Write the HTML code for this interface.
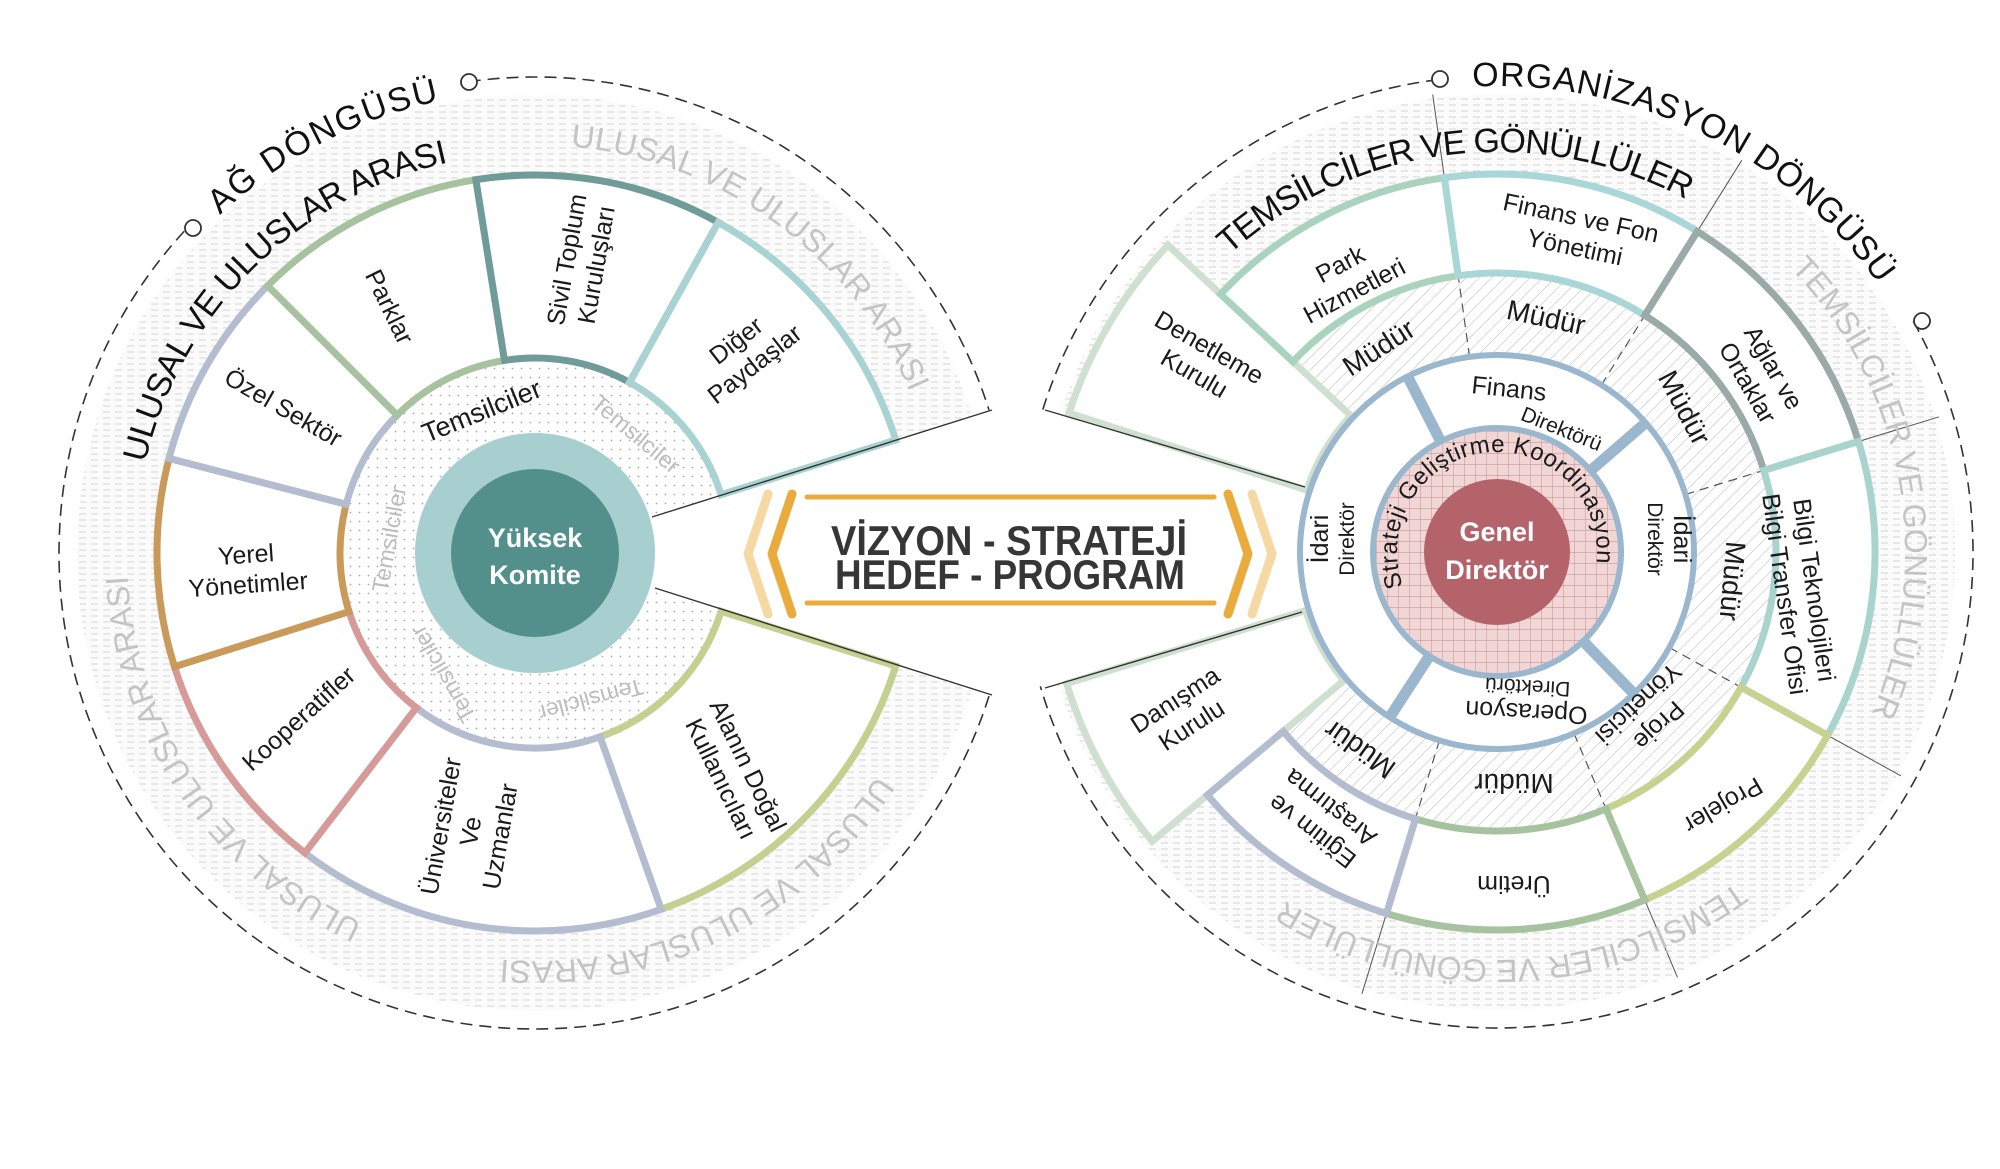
<!DOCTYPE html>
<html><head><meta charset="utf-8">
<style>
html,body{margin:0;padding:0;background:#fff;}
svg{display:block;font-family:"Liberation Sans","DejaVu Sans",sans-serif;}
.lb{font-size:25px;fill:#1a1a1a;text-anchor:middle;}
.rg{font-size:34px;fill:#111;}
.gr{font-size:32px;fill:#c4c4c4;}
.sg{stroke-width:7;fill:#fff;stroke-linejoin:miter;}
</style></head>
<body>
<svg id="s" width="2000" height="1169" viewBox="0 0 2000 1169" xmlns="http://www.w3.org/2000/svg">
<defs>
<pattern id="hg" width="12" height="6" patternUnits="userSpaceOnUse"><rect width="12" height="6" fill="#fbfbfb"/><line x1="0" y1="3" x2="7" y2="3" stroke="#d4d4d4" stroke-width="1"/></pattern>
<pattern id="dg" width="9" height="9" patternUnits="userSpaceOnUse" patternTransform="rotate(-45)"><rect width="9" height="9" fill="#fff"/><line x1="0" y1="0" x2="9" y2="0" stroke="#c2c2c2" stroke-width="1.2"/></pattern>
<pattern id="gd" width="11" height="11" patternUnits="userSpaceOnUse"><rect width="11" height="11" fill="#f2d6d6"/><path d="M0 0H11M0 0V11" stroke="#b88a8a" stroke-width="0.9" fill="none"/></pattern>
<pattern id="dt" width="9" height="9" patternUnits="userSpaceOnUse"><rect width="9" height="9" fill="#fff"/><circle cx="4.5" cy="4.5" r="0.9" fill="#a8a8a8"/></pattern>
<path id="la1"/><path id="la2"/><path id="lg1"/><path id="lg2"/><path id="lg3"/>
<path id="ra1"/><path id="ra2"/><path id="rg1"/><path id="rg2"/><path id="rs"/>
</defs>

<!-- LEFT -->
<g transform="translate(535,553)">
<path id="Lband" fill="url(#hg)"/>
<path id="Ld1" fill="none" stroke="#333" stroke-width="1.6" stroke-dasharray="12 7"/>
<path id="Ld2" fill="none" stroke="#333" stroke-width="1.6" stroke-dasharray="12 7"/>
<path id="Lring" fill="url(#dt)"/>
<path id="L1" class="sg" stroke="#c4d08f"/>
<path id="L2" class="sg" stroke="#b4bdd0"/>
<path id="L3" class="sg" stroke="#d69b98"/>
<path id="L4" class="sg" stroke="#c99a5a"/>
<path id="L5" class="sg" stroke="#b4bdd0"/>
<path id="L6" class="sg" stroke="#a7c29f"/>
<path id="L7" class="sg" stroke="#6f9b98"/>
<path id="L8" class="sg" stroke="#a9d2d2"/>
<circle r="120" fill="#a7cfcf"/>
<circle r="84" fill="#53908b"/>
<text class="rg"><textPath href="#la1" textLength="250" lengthAdjust="spacing">AĞ DÖNGÜSÜ</textPath></text>
<text class="rg"><textPath href="#la2" textLength="450" lengthAdjust="spacing">ULUSAL VE ULUSLAR ARASI</textPath></text>
<text class="gr"><textPath href="#lg1" textLength="440" lengthAdjust="spacing">ULUSAL VE ULUSLAR ARASI</textPath></text>
<text class="gr"><textPath href="#lg2" textLength="440" lengthAdjust="spacing">ULUSAL VE ULUSLAR ARASI</textPath></text>
<text class="gr"><textPath href="#lg3" textLength="440" lengthAdjust="spacing">ULUSAL VE ULUSLAR ARASI</textPath></text>
</g>
<path d="M652 517L992 410M655 588L992 695" stroke="#333" stroke-width="1.4" fill="none"/>
<circle cx="193" cy="228" r="8" fill="#fff" stroke="#333" stroke-width="1.8"/>
<circle cx="469" cy="82" r="8" fill="#fff" stroke="#333" stroke-width="1.8"/>
<text x="535" y="547" text-anchor="middle" font-size="27" font-weight="bold" fill="#fff">Yüksek</text>
<text x="535" y="584" text-anchor="middle" font-size="27" font-weight="bold" fill="#fff">Komite</text>

<g class="lb">
<text transform="translate(389,307) rotate(64)" y="8">Parklar</text>
<text transform="translate(581,262) rotate(-80)"><tspan x="0" y="-6">Sivil Toplum</tspan><tspan x="0" y="24">Kuruluşları</tspan></text>
<text transform="translate(745,352) rotate(-38)"><tspan x="0" y="-6">Diğer</tspan><tspan x="0" y="24">Paydaşlar</tspan></text>
<text transform="translate(283,408) rotate(30)" y="8">Özel Sektör</text>
<text transform="translate(247,569) rotate(-4)"><tspan x="0" y="-6">Yerel</tspan><tspan x="0" y="24">Yönetimler</tspan></text>
<text transform="translate(299,719) rotate(-42)" y="8">Kooperatifler</text>
<text transform="translate(469,831) rotate(-80)"><tspan x="0" y="-20">Üniversiteler</tspan><tspan x="0" y="10">Ve</tspan><tspan x="0" y="40">Uzmanlar</tspan></text>
<text transform="translate(735,772) rotate(64)"><tspan x="0" y="-6">Alanın Doğal</tspan><tspan x="0" y="24">Kullanıcıları</tspan></text>
<text transform="translate(482,412) rotate(-22)" y="8" font-size="27">Temsilciler</text>
</g>
<g class="lb" style="fill:#bdbdbd;font-size:23px">
<text transform="translate(636,434) rotate(40)" y="8">Temsilciler</text>
<text transform="translate(389,539) rotate(-80)" y="8">Temsilciler</text>
<text transform="translate(443,674) rotate(240)" y="8">Temsilciler</text>
<text transform="translate(591,700) rotate(165)" y="8">Temsilciler</text>
</g>

<!-- RIGHT -->
<g transform="translate(1497,552)">
<path id="Rband" fill="url(#hg)"/>
<path id="Rd1" fill="none" stroke="#333" stroke-width="1.6" stroke-dasharray="12 7"/>
<path id="Rd2" fill="none" stroke="#333" stroke-width="1.6" stroke-dasharray="12 7"/>
<path id="Rthin" fill="none" stroke="#555" stroke-width="1"/>
<path id="Rm" fill="url(#dg)"/>
<path id="Rmd" fill="none" stroke="#555" stroke-width="1.2" stroke-dasharray="9 6"/>
<path id="R1" class="sg" stroke="#cfe0d1"/>
<path id="R10" class="sg" stroke="#cfe0d1"/>
<path id="R2" class="sg" stroke="#a9d3bd"/>
<path id="R3" class="sg" stroke="#a9d6d6"/>
<path id="R4" class="sg" stroke="#99aaa7"/>
<path id="R5" class="sg" stroke="#a9d3cd"/>
<path id="R6" class="sg" stroke="#c5d290"/>
<path id="R7" class="sg" stroke="#a7c29f"/>
<path id="R8" class="sg" stroke="#b4bdd0"/>
<circle r="197" fill="#fff" stroke="#9bb7ce" stroke-width="6"/>
<path id="Rdiv" stroke="#9bb7ce" stroke-width="11" fill="none"/>
<circle r="124" fill="url(#gd)" stroke="#9bb7ce" stroke-width="6"/>
<circle r="73" fill="#b5636a"/>
<text class="rg"><textPath href="#ra1" textLength="471" lengthAdjust="spacing">ORGANİZASYON DÖNGÜSÜ</textPath></text>
<text class="rg"><textPath href="#ra2" textLength="490" lengthAdjust="spacing">TEMSİLCİLER VE GÖNÜLLÜLER</textPath></text>
<text class="gr"><textPath href="#rg1" textLength="480" lengthAdjust="spacing">TEMSİLCİLER VE GÖNÜLLÜLER</textPath></text>
<text class="gr"><textPath href="#rg2" textLength="480" lengthAdjust="spacing">TEMSİLCİLER VE GÖNÜLLÜLER</textPath></text>
<text style="font-size:24px;fill:#1a1a1a"><textPath href="#rs" textLength="360" lengthAdjust="spacing">Strateji Geliştirme Koordinasyon</textPath></text>
</g>
<path d="M1305 487L1045 410M1302 612L1045 688" stroke="#333" stroke-width="1.4" fill="none"/>
<circle cx="1440" cy="79" r="8" fill="#fff" stroke="#333" stroke-width="1.8"/>
<circle cx="1922" cy="321" r="8" fill="#fff" stroke="#333" stroke-width="1.8"/>
<text x="1497" y="541" text-anchor="middle" font-size="27" font-weight="bold" fill="#fff">Genel</text>
<text x="1497" y="579" text-anchor="middle" font-size="27" font-weight="bold" fill="#fff">Direktör</text>

<g class="lb">
<text transform="translate(1202,360) rotate(30)"><tspan x="0" y="-6">Denetleme</tspan><tspan x="0" y="24">Kurulu</tspan></text>
<text transform="translate(1347,277) rotate(-28)"><tspan x="0" y="-6">Park</tspan><tspan x="0" y="24">Hizmetleri</tspan></text>
<text transform="translate(1578,232) rotate(12)"><tspan x="0" y="-6">Finans ve Fon</tspan><tspan x="0" y="24">Yönetimi</tspan></text>
<text transform="translate(1761,375) rotate(60)"><tspan x="0" y="-6">Ağlar ve</tspan><tspan x="0" y="24">Ortaklar</tspan></text>
<text transform="translate(1800,592) rotate(82)"><tspan x="0" y="-6">Bilgi Teknolojileri</tspan><tspan x="0" y="24">Bilgi Transfer Ofisi</tspan></text>
<text transform="translate(1723,805) rotate(150)" y="8">Projeler</text>
<text transform="translate(1514,884) rotate(180)" y="8">Üretim</text>
<text transform="translate(1321,820) rotate(218)"><tspan x="0" y="-6">Eğitim ve</tspan><tspan x="0" y="24">Araştırma</tspan></text>
<text transform="translate(1183,712) rotate(-33)"><tspan x="0" y="-6">Danışma</tspan><tspan x="0" y="24">Kurulu</tspan></text>
<text transform="translate(1379,348) rotate(-33)" y="9" font-size="28">Müdür</text>
<text transform="translate(1546,318) rotate(12)" y="9" font-size="28">Müdür</text>
<text transform="translate(1684,408) rotate(62)" y="9" font-size="28">Müdür</text>
<text transform="translate(1732,581) rotate(95)" y="9" font-size="28">Müdür</text>
<text transform="translate(1360,749) rotate(215)" y="9" font-size="28">Müdür</text>
<text transform="translate(1514,783) rotate(180)" y="9" font-size="28">Müdür</text>
<text transform="translate(1649,715) rotate(137)"><tspan x="0" y="-6">Proje</tspan><tspan x="0" y="24">Yöneticisi</tspan></text>
<text transform="translate(1509,389) rotate(6)" y="8">Finans</text>
<text transform="translate(1562,428) rotate(22)" y="8" font-size="21">Direktörü</text>
<text transform="translate(1334,539) rotate(-90)"><tspan x="0" y="-6">İdari</tspan><tspan x="0" y="20" font-size="21">Direktör</tspan></text>
<text transform="translate(1668,539) rotate(90)"><tspan x="0" y="-6">İdari</tspan><tspan x="0" y="20" font-size="21">Direktör</tspan></text>
<text transform="translate(1527,700) rotate(183)"><tspan x="0" y="-4">Operasyon</tspan><tspan x="0" y="20" font-size="21">Direktörü</tspan></text>
</g>

<!-- BANNER -->
<path d="M807 497H1214M807 603H1214" stroke="#e9ac3c" stroke-width="5" stroke-linecap="round"/>
<path d="M768 494L748 554L768 614" stroke="#f6d9a2" stroke-width="9" stroke-linecap="round" stroke-linejoin="round" fill="none"/>
<path d="M792 494L772 554L792 614" stroke="#e9ac3c" stroke-width="9" stroke-linecap="round" stroke-linejoin="round" fill="none"/>
<path d="M1228 494L1248 554L1228 614" stroke="#e9ac3c" stroke-width="9" stroke-linecap="round" stroke-linejoin="round" fill="none"/>
<path d="M1252 494L1272 554L1252 614" stroke="#f6d9a2" stroke-width="9" stroke-linecap="round" stroke-linejoin="round" fill="none"/>
<text x="831" y="555" font-size="42" font-weight="bold" fill="#363636" textLength="356" lengthAdjust="spacingAndGlyphs">VİZYON - STRATEJİ</text>
<text x="835" y="589" font-size="42" font-weight="bold" fill="#363636" textLength="350" lengthAdjust="spacingAndGlyphs">HEDEF - PROGRAM</text>
</svg>
<script>
function pt(r,a){a=a*Math.PI/180;return (r*Math.cos(a)).toFixed(2)+' '+(r*Math.sin(a)).toFixed(2);}
function sec(r1,r2,a1,a2){var L=(a2-a1)>180?1:0;return 'M'+pt(r2,a1)+'A'+r2+' '+r2+' 0 '+L+' 1 '+pt(r2,a2)+'L'+pt(r1,a2)+'A'+r1+' '+r1+' 0 '+L+' 0 '+pt(r1,a1)+'Z';}
function arc(r,a1,a2){var L=Math.abs(a2-a1)>180?1:0,sw=a2>a1?1:0;return 'M'+pt(r,a1)+'A'+r+' '+r+' 0 '+L+' '+sw+' '+pt(r,a2);}
function ln(r1,r2,a){return 'M'+pt(r1,a)+'L'+pt(r2,a);}
var D={
Lband:sec(378,458,17.4,342.6),Ld1:arc(476,17.5,223.5),Ld2:arc(476,262,342.5),
Lring:sec(120,195,17.4,342.6),
L1:sec(195,378,17.4,70.5),L2:sec(195,378,70.5,127.5),L3:sec(195,378,127.5,162.5),L4:sec(195,378,162.5,194.5),
L5:sec(195,378,194.5,225),L6:sec(195,378,225,261),L7:sec(195,378,261,299),L8:sec(195,378,299,342.6),
la1:arc(462,227,260),la2:arc(400,193,258),lg1:arc(408,275,338),lg2:arc(408,33,96),lg3:arc(408,115,178),
Rband:sec(378,458,197.5,522.5),Rd1:arc(476,197.4,263),Rd2:arc(476,331,523.6),
Rthin:ln(378,462,262)+ln(378,462,302)+ln(378,462,343)+ln(378,462,29)+ln(378,462,67)+ln(378,462,107),
Rm:sec(197,279,223,500),
Rmd:ln(197,279,262)+ln(197,279,302)+ln(197,279,343)+ln(197,279,29)+ln(197,279,67)+ln(197,279,107),
R1:sec(200,450,198,223),R10:sec(200,450,140,163),
R2:sec(279,378,223,262),R3:sec(279,378,262,302),R4:sec(279,378,302,343),R5:sec(279,378,343,389),
R6:sec(279,378,29,67),R7:sec(279,378,67,107),R8:sec(279,378,107,140),
Rdiv:ln(124,197,243)+ln(124,197,319)+ln(124,197,123)+ln(124,197,46),
ra1:arc(466,267,325),ra2:arc(400,228,299),rg1:arc(408,316,386),rg2:arc(408,54,125),rs:arc(100,160,378)
};
for(var k in D){var e=document.getElementById(k);if(e)e.setAttribute('d',D[k]);}
</script>
</body></html>
